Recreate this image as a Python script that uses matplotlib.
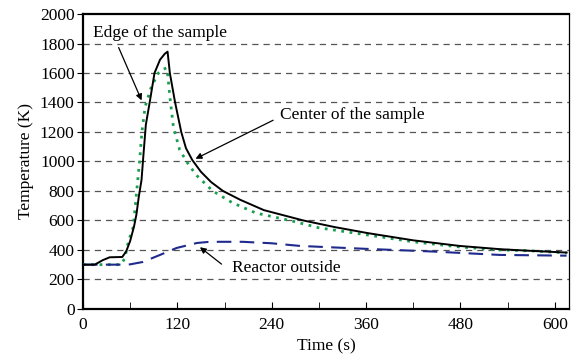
import matplotlib.pyplot as plt
from matplotlib.ticker import MultipleLocator

# center of the sample (solid black)
t_center = [0, 15, 25, 34, 50, 55, 60, 65, 68, 71, 74.5, 77, 80, 85, 91, 98, 104, 107.6,
            110.5, 117, 125, 131, 139, 150, 163, 178, 200, 230, 280, 320, 361, 420,
            479, 530, 572, 615]
T_center = [300, 300, 330, 350, 352, 390, 460, 560, 640, 760, 875, 1050, 1250, 1405,
            1600, 1690, 1730, 1745, 1600, 1405, 1200, 1090, 1010, 930, 860, 800, 740,
            670, 600, 555, 515, 465, 427, 405, 393, 382]

# edge of the sample (green dotted)
t_edge = [0, 48, 53, 58, 64, 68, 72, 75, 79, 87, 96, 102, 106, 108, 110.5, 115, 123,
          133, 144, 165, 190, 220, 263, 300, 361, 420, 479, 530, 572, 615]
T_edge = [300, 300, 340, 460, 556, 780, 1000, 1200, 1370, 1507, 1600, 1625, 1634,
          1580, 1440, 1235, 1078, 990, 908, 800, 720, 650, 600, 550, 502, 455, 420,
          400, 393, 380]

# reactor outside (blue dashed)
t_reactor = [0, 50, 60, 76, 98, 119, 145, 161, 203, 240, 276, 361, 445, 530, 615]
T_reactor = [300, 300, 302, 318, 366, 413, 447, 455, 455, 445, 427, 407, 389, 366, 361]

plt.rcParams['font.family'] = ['Liberation Serif', 'DejaVu Serif']

fig = plt.figure(figsize=(5.8, 3.6), dpi=100)
ax = fig.add_axes([0.143, 0.142, 0.838, 0.819])

for y in range(200, 2000, 200):
    ax.axhline(y, color='#555555', lw=0.9, ls=(0, (5, 4)), zorder=1)

ax.plot(t_edge, T_edge, color='#1a9e50', lw=2, ls=(0, (1, 2)), zorder=3)
ax.plot(t_reactor, T_reactor, color='#1f2a8c', lw=1.5, ls=(0, (7, 4)), zorder=3)
ax.plot(t_center, T_center, color='black', lw=1.4, zorder=4)

ax.set_xlim(0, 618)
ax.set_ylim(0, 2000)
ax.xaxis.set_major_locator(MultipleLocator(120))
ax.xaxis.set_minor_locator(MultipleLocator(60))
ax.yaxis.set_major_locator(MultipleLocator(200))
ax.tick_params(axis='x', which='both', direction='in', length=5, labelsize=12.5, pad=6)
ax.tick_params(axis='y', which='both', direction='out', length=4, labelsize=12.5, pad=2)
for side in ['left', 'bottom', 'top']:
    ax.spines[side].set_linewidth(1.6)
ax.spines['right'].set_linewidth(0.9)

ax.set_xlabel('Time (s)', fontsize=12.5, labelpad=4)
ax.set_ylabel('Temperature (K)', fontsize=12.5, labelpad=4)

arrow = dict(arrowstyle='-|>', color='black', lw=0.9, mutation_scale=9)
ax.text(13, 1871, 'Edge of the sample', fontsize=12.5, va='center', ha='left')
ax.annotate('', xy=(76, 1397), xytext=(44, 1790), arrowprops=arrow)
ax.text(250, 1315, 'Center of the sample', fontsize=12.5, va='center', ha='left')
ax.annotate('', xy=(140, 1010), xytext=(245, 1288), arrowprops=arrow)
ax.text(189, 278, 'Reactor outside', fontsize=12.5, va='center', ha='left')
ax.annotate('', xy=(146, 430), xytext=(179, 292), arrowprops=arrow)

fig.savefig('out.png', dpi=100)
